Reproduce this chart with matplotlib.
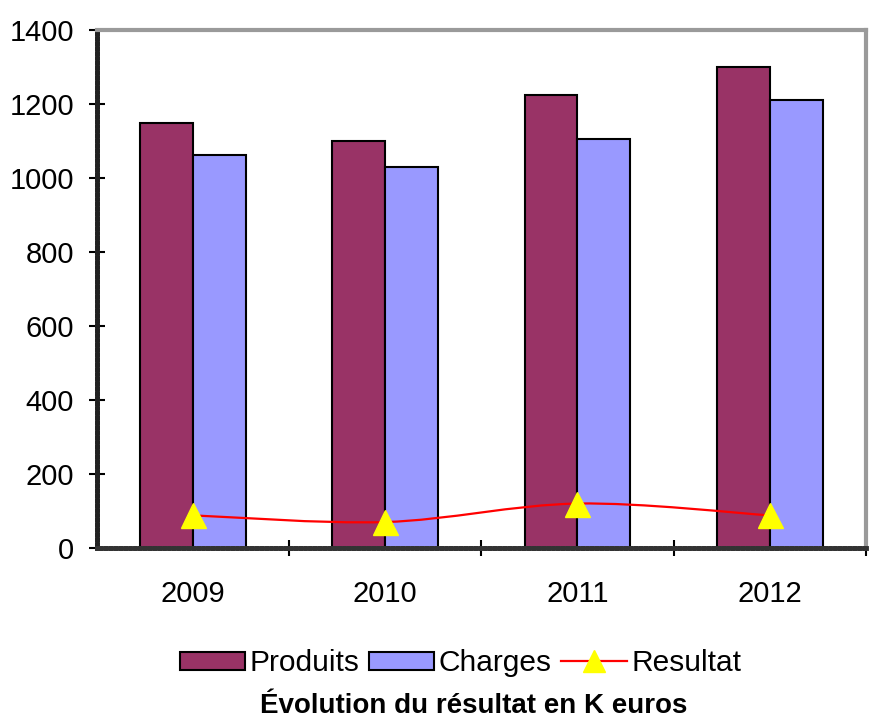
import matplotlib
matplotlib.use("Agg")
import matplotlib.pyplot as plt
from matplotlib.path import Path
from matplotlib.patches import PathPatch, Patch
from matplotlib.lines import Line2D
import numpy as np

plt.rcParams['font.family'] = ['Liberation Sans', 'DejaVu Sans']

years = ['2009', '2010', '2011', '2012']
produits = [1150, 1100, 1225, 1300]
charges = [1062, 1030, 1105, 1212]
resultat = [88, 70, 120, 88]
yticks = [0, 200, 400, 600, 800, 1000, 1200, 1400]

c_prod = '#993366'
c_char = '#9999FF'

fig = plt.figure(figsize=(8.72, 7.2), dpi=100)
ax = fig.add_axes([0.111, 0.239, 0.882, 0.719])

x = np.arange(len(years))
w = 0.275
ax.bar(x - w / 2, produits, w, color=c_prod, edgecolor='black', linewidth=1.5, zorder=2)
ax.bar(x + w / 2, charges, w, color=c_char, edgecolor='black', linewidth=1.5, zorder=2)

# smoothed line (Catmull-Rom -> cubic Bezier)
px = x.astype(float)
py = np.array(resultat, dtype=float)
verts = [(px[0], py[0])]
codes = [Path.MOVETO]
n = len(px)
for i in range(n - 1):
    p0 = (px[max(i - 1, 0)], py[max(i - 1, 0)])
    p1 = (px[i], py[i])
    p2 = (px[i + 1], py[i + 1])
    p3 = (px[min(i + 2, n - 1)], py[min(i + 2, n - 1)])
    c1 = (p1[0] + (p2[0] - p0[0]) / 6, p1[1] + (p2[1] - p0[1]) / 6)
    c2 = (p2[0] - (p3[0] - p1[0]) / 6, p2[1] - (p3[1] - p1[1]) / 6)
    verts += [c1, c2, p2]
    codes += [Path.CURVE4] * 3
ax.add_patch(PathPatch(Path(verts, codes), facecolor='none', edgecolor='red',
                       linewidth=1.6, zorder=3))
ax.plot(px, py, linestyle='none', marker='^', markersize=18, color='#FFFF00',
        markeredgecolor='#FFFF00', zorder=4)

ax.set_xlim(-0.5, 3.5)
ax.set_ylim(0, 1400)
ax.set_yticks(yticks)
ax.set_yticklabels([str(v) for v in yticks])
ax.set_xticks([0.5, 1.5, 2.5, 3.5])
ax.set_xticklabels([])
ax.set_xticks(x, minor=True)
ax.set_xticklabels(years, minor=True)
ax.tick_params(axis='x', which='major', direction='inout', length=12, width=1.5, color='black')
ax.tick_params(axis='x', which='minor', length=0, pad=23, labelsize=21)
ax.tick_params(axis='y', direction='inout', length=12, width=1.5, labelsize=21, pad=10.5)

for side in ['top', 'right']:
    ax.spines[side].set_color('#9a9a9a')
    ax.spines[side].set_linewidth(3)
ax.spines['left'].set_linestyle((0, (0.6, 0.4)))
ax.spines['left'].set_linewidth(3.5)
ax.spines['left'].set_color('#222222')
ax.spines['bottom'].set_linestyle((0, (0.6, 0.4)))
ax.spines['bottom'].set_linewidth(3.5)
ax.spines['bottom'].set_color('#333333')

handles = [Patch(facecolor=c_prod, edgecolor='black', linewidth=1.5),
           Patch(facecolor=c_char, edgecolor='black', linewidth=1.5),
           Line2D([], [], color='red', linewidth=1.6, marker='^', markersize=16,
                  markerfacecolor='#FFFF00', markeredgecolor='#FFFF00')]
fig.legend(handles, ['Produits', 'Charges', 'Resultat'], loc='center',
           bbox_to_anchor=(0.528, 0.079), ncol=3, frameon=False, fontsize=21.5,
           handlelength=2.2, handleheight=0.55, handletextpad=0.15, columnspacing=0.3)

fig.text(0.543, 0.019, 'Évolution du résultat en K euros', ha='center', va='center',
         fontsize=20, fontweight='bold')

fig.savefig('out.png', dpi=100)
